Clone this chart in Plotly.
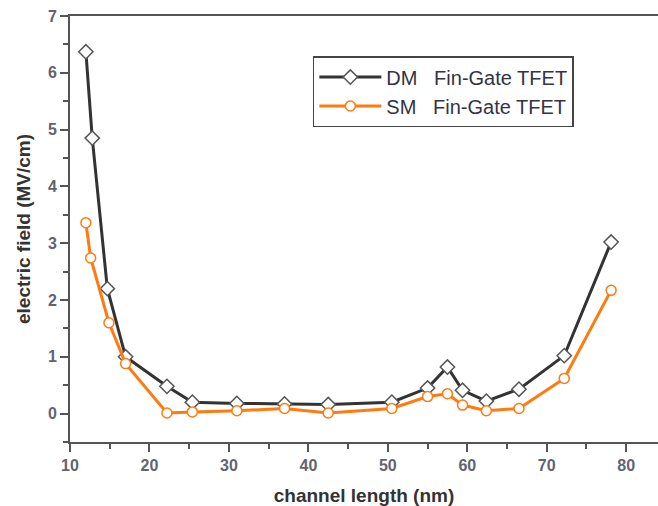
import plotly.graph_objects as go

dm_x = [12.0, 12.8, 14.7, 17.0, 22.2, 25.4, 31.0, 37.0, 42.5, 50.5, 55.0, 57.5, 59.4, 62.4, 66.5, 72.2, 78.1]
dm_y = [6.37, 4.85, 2.20, 1.00, 0.48, 0.20, 0.18, 0.17, 0.16, 0.20, 0.45, 0.82, 0.41, 0.22, 0.43, 1.02, 3.02]
sm_x = [12.0, 12.6, 14.9, 17.0, 22.2, 25.4, 31.0, 37.0, 42.5, 50.5, 55.0, 57.5, 59.4, 62.4, 66.5, 72.2, 78.1]
sm_y = [3.36, 2.74, 1.60, 0.88, 0.01, 0.03, 0.05, 0.09, 0.01, 0.09, 0.30, 0.35, 0.15, 0.05, 0.09, 0.62, 2.17]

x_ticks = [10, 20, 30, 40, 50, 60, 70, 80]
y_ticks = [0, 1, 2, 3, 4, 5, 6, 7]

fig = go.Figure()
fig.add_trace(go.Scatter(
    x=dm_x, y=dm_y, mode="lines+markers", name="DM   Fin-Gate TFET",
    line=dict(color="#333333", width=3),
    marker=dict(symbol="diamond", size=11, color="white", line=dict(color="#555555", width=1.5)),
))
fig.add_trace(go.Scatter(
    x=sm_x, y=sm_y, mode="lines+markers", name="SM   Fin-Gate TFET",
    line=dict(color="#FF7A10", width=3),
    marker=dict(symbol="circle", size=10, color="white", line=dict(color="#FF7A10", width=1.5)),
))

tick_font = dict(family="Liberation Sans, Arial", size=16, color="#63636f")
title_font = dict(family="Liberation Sans, Arial", size=19, color="#333333")
fig.update_layout(
    width=658, height=506,
    margin=dict(l=70, r=0, t=16, b=64),
    paper_bgcolor="white", plot_bgcolor="white",
    font=dict(family="Liberation Sans, Arial", color="#333333"),
    showlegend=True,
    legend=dict(
        x=0.413, y=0.906, xanchor="left", yanchor="top",
        bordercolor="#444444", borderwidth=1.5, bgcolor="white",
        font=dict(family="Liberation Sans, Arial", size=20, color="#333344"),
        tracegroupgap=0, itemwidth=62,
    ),
    xaxis=dict(
        range=[10, 84], tickvals=x_ticks, ticktext=["<b>%d</b>" % v for v in x_ticks],
        automargin=False,
        showgrid=False, zeroline=False, showline=True, linecolor="#555555", linewidth=2,
        mirror=True, ticks="outside", ticklen=8, tickwidth=1.5, tickcolor="#555555",
        minor=dict(dtick=5, ticks="outside", ticklen=5, tickcolor="#555555", showgrid=False),
        tickfont=tick_font,
        title=dict(text="<b>channel length (nm)</b>", font=title_font, standoff=20),
    ),
    yaxis=dict(
        range=[-0.5, 7], tickvals=y_ticks, ticktext=["<b>%d</b>" % v for v in y_ticks],
        automargin=False,
        showgrid=False, zeroline=False, showline=True, linecolor="#555555", linewidth=2,
        mirror=True, ticks="outside", ticklen=8, tickwidth=1.5, tickcolor="#555555",
        minor=dict(dtick=0.5, ticks="outside", ticklen=5, tickcolor="#555555", showgrid=False),
        tickfont=tick_font,
        title=dict(text="<b>electric field (MV/cm)</b>", font=title_font, standoff=12),
    ),
)

fig.write_html(
    "out.html",
    config={"displayModeBar": False},
    post_script="document.body.style.margin='0';document.body.style.overflow='hidden';",
)
